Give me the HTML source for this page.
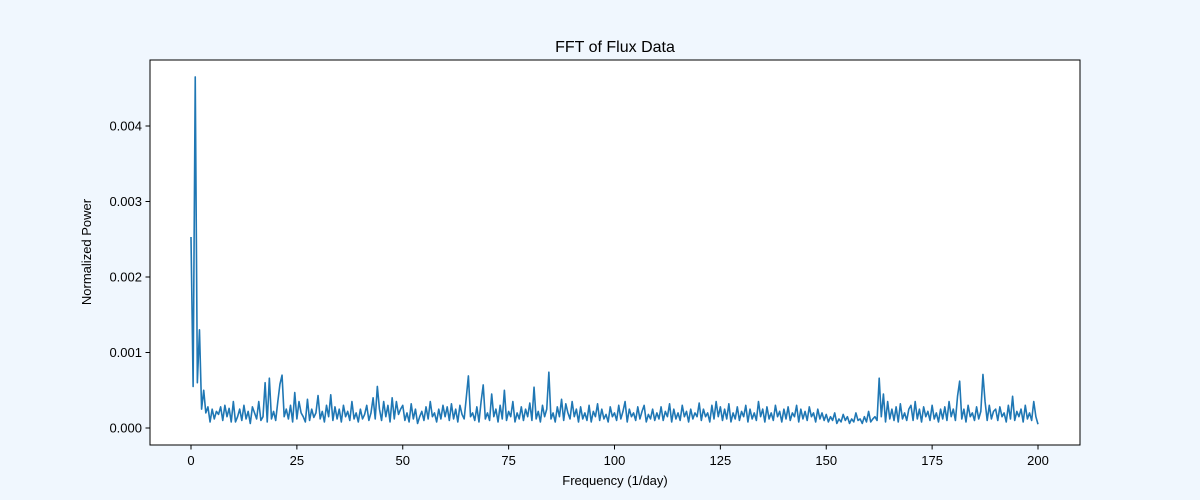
<!DOCTYPE html>
<html><head><meta charset="utf-8"><style>
body{margin:0;background:#f0f7fe;}
svg{display:block;font-family:"Liberation Sans","DejaVu Sans",sans-serif;}
</style></head><body>
<svg id="chart" width="1200" height="500" xmlns="http://www.w3.org/2000/svg">
<rect x="0" y="0" width="1200" height="500" fill="#f0f7fe"/>
<rect x="150" y="60" width="930" height="385" fill="#ffffff"/>
<g id="grid"></g>
<path id="line" fill="none" stroke="#1f77b4" stroke-width="1.6" stroke-linejoin="round"/>
<rect x="150" y="60" width="930" height="385" fill="none" stroke="#000" stroke-width="1"/>
<text x="615" y="52" font-size="16" text-anchor="middle">FFT of Flux Data</text>
<text x="615" y="485" font-size="13" text-anchor="middle">Frequency (1/day)</text>
<text transform="translate(91,252) rotate(-90)" font-size="13" text-anchor="middle">Normalized Power</text>
</svg>
<script>
const xTicks=[0,25,50,75,100,125,150,175,200];
const yTicks=[0,0.001,0.002,0.003,0.004];
const yTickLabels=["0.000","0.001","0.002","0.003","0.004"];
const freqStep=0.5;
const power=[
253,55,465,60,130,25,50,20,28,8,25,12,22,18,28,10,30,15,26,8,
35,8,15,25,10,30,12,22,6,28,20,12,35,10,15,60,8,66,12,22,
10,35,58,70,15,25,12,30,8,47,12,35,20,15,8,38,10,25,14,20,
43,12,22,8,30,15,44,10,28,12,25,8,30,15,22,10,35,12,20,8,
25,12,18,30,10,20,40,12,55,25,10,35,15,30,8,40,12,35,18,25,
30,10,20,8,32,12,25,6,15,22,10,28,12,35,15,20,8,25,12,30,
15,28,10,32,12,25,8,30,18,12,40,69,15,20,10,28,8,35,57,12,
20,10,45,15,25,8,30,12,50,10,22,15,35,8,20,12,28,10,25,15,
33,10,54,12,22,8,30,15,25,74,12,20,8,28,15,38,10,32,20,12,
35,15,25,8,28,12,20,10,30,8,22,15,32,10,25,12,18,8,28,15,
20,10,30,12,22,35,8,25,15,20,10,28,12,22,30,8,18,12,25,10,
20,12,28,10,22,15,32,8,25,12,20,10,30,15,22,8,25,12,20,15,
33,10,25,15,20,8,30,12,35,15,28,10,25,12,32,8,20,12,28,10,
22,15,30,8,25,12,20,10,35,15,25,8,28,12,20,10,30,15,22,8,
25,12,28,10,20,15,30,8,25,12,22,10,28,15,20,8,25,12,20,10,
18,8,15,10,20,6,12,8,18,10,15,6,12,8,20,10,12,6,15,8,
22,8,12,15,10,66,15,45,8,35,12,25,10,28,8,32,12,20,10,25,
30,10,35,12,25,8,28,15,22,10,30,12,20,8,25,12,28,10,35,15,
25,10,42,62,12,25,8,30,15,20,10,28,12,22,71,35,10,30,12,22,
25,10,28,15,20,8,30,12,42,10,22,15,25,8,30,12,20,10,35,15,
5];
const powerScale=1e-5;
const X=v=>191+v*(1038-191)/200;
const Y=v=>428-v*(428-126)/0.004;
const svg=document.getElementById('chart');
const NS="http://www.w3.org/2000/svg";
xTicks.forEach(t=>{
  const l=document.createElementNS(NS,'line');
  l.setAttribute('x1',X(t));l.setAttribute('x2',X(t));l.setAttribute('y1',445);l.setAttribute('y2',449.5);l.setAttribute('stroke','#000');
  
  
  svg.appendChild(l);
  const s=document.createElementNS(NS,'text');
  s.setAttribute('x',X(t));s.setAttribute('y',465);s.setAttribute('font-size','13');s.setAttribute('text-anchor','middle');
  s.textContent=t;
  
  
  svg.appendChild(s);
});
yTicks.forEach((t,i)=>{
  const l=document.createElementNS(NS,'line');
  l.setAttribute('x1',145.5);l.setAttribute('x2',150);l.setAttribute('y1',Y(t));l.setAttribute('y2',Y(t));l.setAttribute('stroke','#000');
  
  
  svg.appendChild(l);
  const s=document.createElementNS(NS,'text');
  s.setAttribute('x',142);s.setAttribute('y',Y(t)+4.5);s.setAttribute('font-size','13');s.setAttribute('text-anchor','end');
  s.textContent=yTickLabels[i];
  
  
  svg.appendChild(s);
});
let d='';
power.forEach((p,i)=>{d+=(i?'L':'M')+X(i*freqStep).toFixed(2)+','+Y(p*powerScale).toFixed(2);});
document.getElementById('line').setAttribute('d',d);
</script>
</body></html>
